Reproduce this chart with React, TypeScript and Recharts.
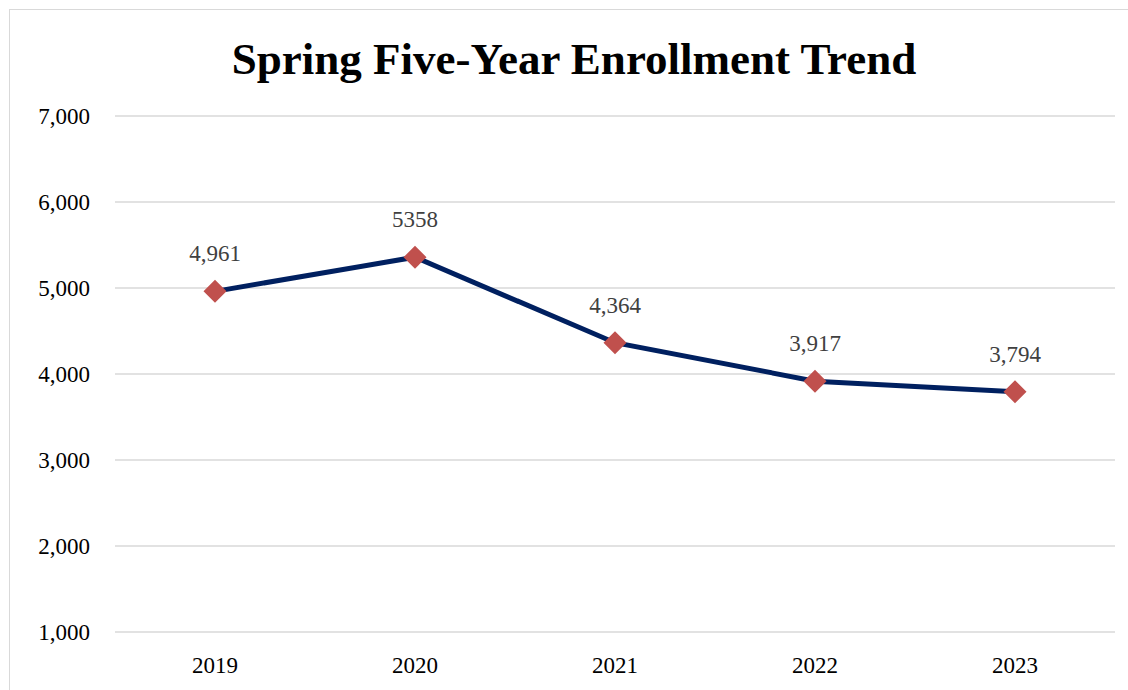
import React from "react";
import { LineChart, Line, XAxis, YAxis, CartesianGrid, LabelList } from "recharts";

const years = ["2019", "2020", "2021", "2022", "2023"];
const enrollment = [4961, 5358, 4364, 3917, 3794];
const valueLabels = ["4,961", "5358", "4,364", "3,917", "3,794"];
const yTicks = [1000, 2000, 3000, 4000, 5000, 6000, 7000];

const data = years.map((y, i) => ({ year: y, value: enrollment[i], label: valueLabels[i] }));

const FONT = "'Liberation Serif', 'DejaVu Serif', serif";

const Diamond = (props: any) => {
  const { cx, cy } = props;
  if (cx == null || cy == null) return null;
  const r = 11.5;
  return (
    <path
      d={`M${cx},${cy - r} L${cx + r},${cy} L${cx},${cy + r} L${cx - r},${cy} Z`}
      fill="#C0504D"
    />
  );
};

const fmt = (v: number) => v.toLocaleString("en-US");

export default function App() {
  return (
    <div
      style={{
        position: "fixed",
        left: 9,
        top: 9,
        width: 1119,
        height: 681,
        borderTop: "1px solid #d9d9d9",
        borderLeft: "1px solid #d9d9d9",
        boxSizing: "border-box",
        overflow: "hidden",
        fontFamily: FONT,
        background: "#fff",
      }}
    >
      <div
        style={{
          position: "absolute",
          left: 0,
          top: 24,
          width: 1128,
          textAlign: "center",
          fontWeight: "bold",
          fontSize: 45,
          color: "#000",
          fontFamily: FONT,
          lineHeight: "50px",
        }}
      >
        Spring Five-Year Enrollment Trend
      </div>
      <LineChart
        width={1118}
        height={680}
        data={data}
        margin={{ top: 106, right: 13, bottom: 18, left: 25 }}
      >
        <CartesianGrid vertical={false} stroke="#d9d9d9" strokeWidth={1.5} />
        <XAxis
          dataKey="year"
          axisLine={false}
          tickLine={false}
          padding={{ left: 100, right: 100 }}
          height={40}
          tickSize={0}
          tickMargin={25}
          tick={{ fill: "#000", fontSize: 23, fontFamily: FONT }}
        />
        <YAxis
          domain={[1000, 7000]}
          ticks={yTicks}
          tickFormatter={fmt}
          axisLine={false}
          tickLine={false}
          width={80}
          tickSize={0}
          tickMargin={25}
          tick={{ fill: "#000", fontSize: 23, fontFamily: FONT }}
        />
        <Line
          type="linear"
          dataKey="value"
          stroke="#002060"
          strokeWidth={5}
          dot={<Diamond />}
          activeDot={false}
          isAnimationActive={false}
        >
          <LabelList
            dataKey="label"
            position="top"
            offset={30}
            style={{ fill: "#404040", fontSize: 23, fontFamily: FONT }}
          />
        </Line>
      </LineChart>
    </div>
  );
}
